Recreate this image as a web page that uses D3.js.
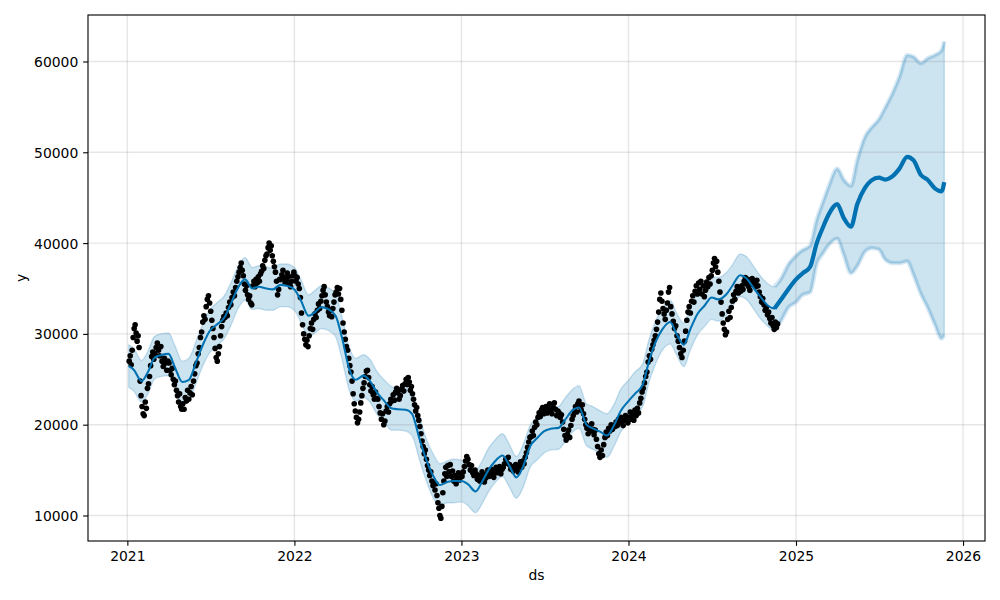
<!DOCTYPE html>
<html><head><meta charset="utf-8">
<script src="https://cdn.jsdelivr.net/npm/d3@7"></script>
<style>body{margin:0;background:#fff} text{font-family:"DejaVu Sans",sans-serif;}</style>
</head><body><svg id="chart" width="1000" height="600"></svg>
<script>
// ---------- data ----------
const xTickLabels = ["2021","2022","2023","2024","2025","2026"];
const yTickValues = [10000,20000,30000,40000,50000,60000];
const obsStart = "2021-01-04", obsEnd = "2024-11-22";
// observed y, one array per month (values spread evenly across the month)
const obs2021 = [
 [27000,27600,26600,28200,29600,30600,31000,30100,29200,29800,28500,24800,23200],
 [22000,21200,21000,22500,21800,24000,24500,25300,26500,27500,28000,27200],
 [27800,28500,29000,28200,27600,28600,27000,26400,27300,26800,26000,27000],
 [26800,26000,25500,26200,25000,24400,24800,23800,23200,22500,23400,22000,21700],
 [22300,21700,23000,22600,23800,22800,23500,24200,23300,24800,25600,26500],
 [26800,27800,28500,29600,30200,31300,32000,31600,33000,33800,34200,33400],
 [32500,31500,30600,29600,28400,27400,27000,27800,28600,29800,30800,31500,31900],
 [31800,32300,32000,32900,33500,33200,34000,34600,34200,35100,35800,36300],
 [36800,37300,37800,37000,36400,35500,34800,35300,34300,33800,34200,33400,33200],
 [35300,35800,35200,36000,35600,36300,35800,36600,36900,37500,37200,38100,38600],
 [38800,39500,40000,39200,39700,38600,38000,37400,36800,35800,34300,34900,36000],
 [36000,36500,37000,36200,35600,35900,36700,36300,35500,35200,35800,36400,36800]
];
const obs2022 = [
 [36400,35800,36200,35500,35000,34000,32300,31000,30000,29400,28800,29300,28600],
 [29800,30600,31200,30500,31600,32200,31800,32600,33300,32800,33600],
 [34200,34800,35200,34300,33500,33000,32400,32000,32600,31900,32800,33500,34300],
 [34600,35100,34400,35000,33800,32600,31200,30200,29400,28600,28200,27300],
 [26500,25800,24800,23400,22300,21500,20800,20200,20600,21400,22400,23200,24000],
 [24600,25300,25900,26000,25200,24400,23700,24200,23300,22800,23600,22900],
 [22800,22000,21300,20600,21200,20000,20400,21500,22000,21400,22300,22800],
 [22600,23300,22700,23600,24000,23500,22800,23200,23900,24300,23700,24500],
 [25000,24400,25200,24700,23800,24200,23400,22800,22200,21500,21900,21000,20500],
 [19800,19000,18200,17600,16800,17200,16200,15500,15000,14400,14800,13800,13300],
 [13600,12800,13500,12200,11400,10800,10000,9700,11000,12500,13800,14600,15300,14300],
 [15500,14800,15600,14300,14900,13800,14400,13500,14100,14700,13900,14500]
];
const obs2023 = [
 [14300,14800,15400,16000,16500,16200,15600,15000,15500,14700,14400,15000],
 [14600,14000,14400,13800,14200,14800,14300,13700,14100,14600,15000],
 [14300,14700,15100,14500,14200,14800,15300,14700,15000,15400,14600,15100],
 [15300,15700,16200,15800,16400,15600,15100,15400,14900,15200,15600],
 [15200,14800,15500,15900,15300,16000,15700,16400,16900,17500,18100,18600],
 [18700,19300,18800,19700,20300,20000,20800,21300,20900,21600,21900,21200],
 [21500,22000,21300,21800,22300,21600,21200,21900,22400,21700,21000,21500],
 [21300,20800,21100,20300,19500,18800,18300,18900,19400,18600,19900,20600],
 [21000,21500,22000,21400,22300,22600,22000,21600,22200,21200,20600,20000],
 [19600,19000,19800,19300,20100,19500,18900,19400,18400,17600,16800,16400],
 [17200,16600,17800,18600,19200,18800,19600,19300,20000,19500,19900],
 [19800,20300,19900,20600,20200,20800,20400,19900,20500,21000,20700,20200]
];
const obs2024 = [
 [20800,21400,20600,21100,20500,21600,21000,21800,21300,22400,22900,23600],
 [24000,24600,25300,25800,26900,27600,27200,28300,28800,29300,29800],
 [30500,31300,32400,33800,34500,33600,32800,32200,31600,32600,33400,34600,35100],
 [33000,32200,31400,30600,30900,29800,29200,28500,27800,27400,28200],
 [29200,30300,31500,32400,33000,32300,33600,34200,33500,34700,35300,34400],
 [35600,34900,35800,34400,35300,34100,34800,35700,35200,36200,35500,36400],
 [37000,37800,38300,37400,38000,36800,35800,34600,33500,32200,31200,30500,29900],
 [30200,31600,32500,31800,32900,33600,34300,33800,34700,35200,34500,35000],
 [34700,35300,34900,35800,36200,35500,36000,35200,34800,35600,36100,35400],
 [35700,35200,35900,35300,34600,34100,33500,33900,33200,32600,32900,32100],
 [32400,31700,31200,31800,30900,30500,31300,30700,31100]
];
// forecast on a half-month grid (1st and 15th), from fcStart to fcEnd
const fcStart = "2021-01-04", fcEnd = "2025-11-21";
const yhat = [
 26470,26050,24800,25800,27350,27650,27800,26300,24700,24900,27000,28800,30400,31000,31800,33300,35200,36000,35000,35200,35000,34900,35400,35300,
 34900,33700,32000,32400,32950,32750,32000,29600,26100,24950,25400,24800,23500,22700,21800,21700,21650,21200,18500,16300,14300,13350,13700,13800,
 13800,13450,12650,13700,15000,15950,16600,15550,14200,15300,17700,18500,19300,19550,19650,20500,21600,21900,20000,19600,19200,18800,20000,21500,
 22600,23400,24400,27000,29200,30500,31300,30000,28800,30500,32300,33100,34000,33800,34300,35300,36450,36100,35000,34100,33100,32800,33900,34900,
 36000,36650,37400,39950,41750,43300,44300,42800,41800,44300,46100,46900,47200,47000,47400,48200,49500,49100,47500,47000,46000,45700,46700
];
const yhatUpper = [
 28800,28400,27100,28100,29700,30000,30100,28700,27000,27300,29300,31100,32700,33400,34200,35600,37500,38400,37300,37500,37400,37200,37700,37700,
 37300,36000,34300,34800,35300,35100,34400,31900,28500,27300,27700,27200,25800,25000,24200,24000,24000,23500,20900,18600,16700,15700,16000,16200,
 16100,15800,15000,16000,17400,18300,19000,17900,16500,17700,20000,20800,21700,21900,22000,22900,23900,24300,22300,22000,21500,21200,22300,23900,
 24900,25800,26700,29400,31500,32800,33700,32300,31200,32800,34700,35400,36300,36200,36700,37600,38800,38500,37400,36400,35500,35200,36200,37600,
 38600,39200,39700,42500,44500,46400,48200,47000,46300,49100,51700,52700,53600,54900,56600,58300,60700,60500,59800,60300,60700,61200,62200
];
const yhatLower = [
 24100,23700,22500,23400,25000,25300,25400,24000,22300,22600,24700,26500,28000,28700,29500,30900,32900,33700,32700,32800,32600,32600,33000,33000,
 32600,31300,29700,30100,30600,30400,29700,27200,23800,22600,23000,22500,21100,20400,19400,19400,19300,18800,16200,14000,11900,11000,11400,11400,
 11500,11100,10300,11300,12600,13600,14300,13200,11900,13000,15400,16100,16900,17200,17300,18100,19200,19600,17700,17300,16800,16400,17700,19200,
 20300,21000,22000,24700,26800,28200,28900,27700,26400,28200,30000,30800,31600,31400,32000,33000,34100,33800,32700,31700,30800,30400,31600,32900,
 33500,34300,34600,37700,38900,39900,40500,38800,36700,37500,39100,39450,39300,38200,37800,37800,38000,36500,34400,33000,31000,29500,29900
];

// ---------- build ----------
const parse = d3.utcParse("%Y-%m-%d");
const t0 = parse(fcStart), t1 = parse(fcEnd);
const fcDates = [t0];
for (let yy = 2021; yy <= 2025; yy++) for (let m = 0; m < 12; m++) {
  for (const dd of [1, 15]) {
    const d = new Date(Date.UTC(yy, m, dd));
    if (d > t0 && d < t1) fcDates.push(d);
  }
}
fcDates.push(t1);
const fc = fcDates.map((d, i) => ({date: d, yhat: yhat[i], lo: yhatLower[i], hi: yhatUpper[i]}));

const oStart = parse(obsStart), oEndPlus = d3.utcDay.offset(parse(obsEnd), 1);
const points = [];
[obs2021, obs2022, obs2023, obs2024].forEach((months, yi) => months.forEach((vals, m) => {
  let s = new Date(Date.UTC(2021 + yi, m, 1)), e = new Date(Date.UTC(2021 + yi, m + 1, 1));
  if (s < oStart) s = oStart;
  if (e > oEndPlus) e = oEndPlus;
  vals.forEach((v, i) => points.push({date: new Date(+s + (i + 0.5) * (e - s) / vals.length), value: v}));
}));

const L = 88, R = 985, T = 15, B = 541;
const x = d3.scaleUtc().domain([parse("2020-10-07"), parse("2026-02-18")]).range([L, R]);
const y = d3.scaleLinear().domain([7190, 65120]).range([B, T]);
const svg = d3.select("#chart");
svg.append("rect").attr("width", 1000).attr("height", 600).attr("fill", "#fff");
svg.append("defs").append("clipPath").attr("id", "clip")
  .append("rect").attr("x", L).attr("y", T).attr("width", R - L).attr("height", B - T);
const plot = svg.append("g").attr("clip-path", "url(#clip)");
const C = "#0072B2";

const area = d3.area().x(d => x(d.date)).y0(d => y(d.lo)).y1(d => y(d.hi)).curve(d3.curveMonotoneX);
plot.append("path").datum(fc).attr("d", area)
  .attr("fill", C).attr("fill-opacity", 0.2).attr("stroke", C).attr("stroke-opacity", 0.2).attr("stroke-width", 1.39);
const futureStart = parse("2024-11-15");
const fut = fc.filter(d => d.date >= futureStart);
const edge = k => d3.line().x(d => x(d.date)).y(d => y(d[k])).curve(d3.curveMonotoneX);
["lo", "hi"].forEach(k => plot.append("path").datum(fut).attr("d", edge(k))
  .attr("fill", "none").attr("stroke", C).attr("stroke-opacity", 0.16).attr("stroke-width", 4.5));

// grid
const yearDates = xTickLabels.map(s => parse(s + "-01-01"));
plot.append("g").selectAll("line").data(yearDates).join("line")
  .attr("x1", d => x(d)).attr("x2", d => x(d)).attr("y1", T).attr("y2", B)
  .attr("stroke", "#808080").attr("stroke-opacity", 0.2).attr("stroke-width", 1.39);
plot.append("g").selectAll("line").data(yTickValues).join("line")
  .attr("x1", L).attr("x2", R).attr("y1", d => y(d)).attr("y2", d => y(d))
  .attr("stroke", "#808080").attr("stroke-opacity", 0.2).attr("stroke-width", 1.39);

// observations
plot.append("g").selectAll("circle").data(points).join("circle")
  .attr("cx", d => x(d.date)).attr("cy", d => y(d.value)).attr("r", 2.8).attr("fill", "#000");

// forecast line
const line = d3.line().x(d => x(d.date)).y(d => y(d.yhat)).curve(d3.curveMonotoneX);
plot.append("path").datum(fc).attr("d", line).attr("fill", "none").attr("stroke", C).attr("stroke-width", 2.08);
plot.append("path").datum(fut).attr("d", line).attr("fill", "none").attr("stroke", C).attr("stroke-width", 4.2);

// axes
const fs = "13.9px";
const xa = svg.append("g").attr("transform", `translate(0,${B})`)
  .call(d3.axisBottom(x).tickValues(yearDates).tickFormat((d, i) => xTickLabels[i]).tickSize(4.86).tickPadding(4.86));
const ya = svg.append("g").attr("transform", `translate(${L},0)`)
  .call(d3.axisLeft(y).tickValues(yTickValues).tickFormat(d3.format("d")).tickSize(4.86).tickPadding(4.86));
[xa, ya].forEach(a => {
  a.select(".domain").remove();
  a.selectAll(".tick line").attr("stroke", "#000").attr("stroke-width", 1.11);
  a.selectAll("text").attr("fill", "#000").style("font-size", fs).style("font-family", "DejaVu Sans");
});
xa.selectAll("text").attr("dy", null).attr("y", 20.3);
ya.selectAll("text").attr("dy", null).attr("y", 5);

svg.append("rect").attr("x", L).attr("y", T).attr("width", R - L).attr("height", B - T)
  .attr("fill", "none").attr("stroke", "#000").attr("stroke-width", 1.11);

svg.append("text").attr("x", (L + R) / 2).attr("y", 580.4).attr("text-anchor", "middle")
  .style("font-size", fs).text("ds");
svg.append("text").attr("transform", `translate(25.8,${(T + B) / 2}) rotate(-90)`).attr("text-anchor", "middle")
  .style("font-size", fs).text("y");
</script></body></html>
